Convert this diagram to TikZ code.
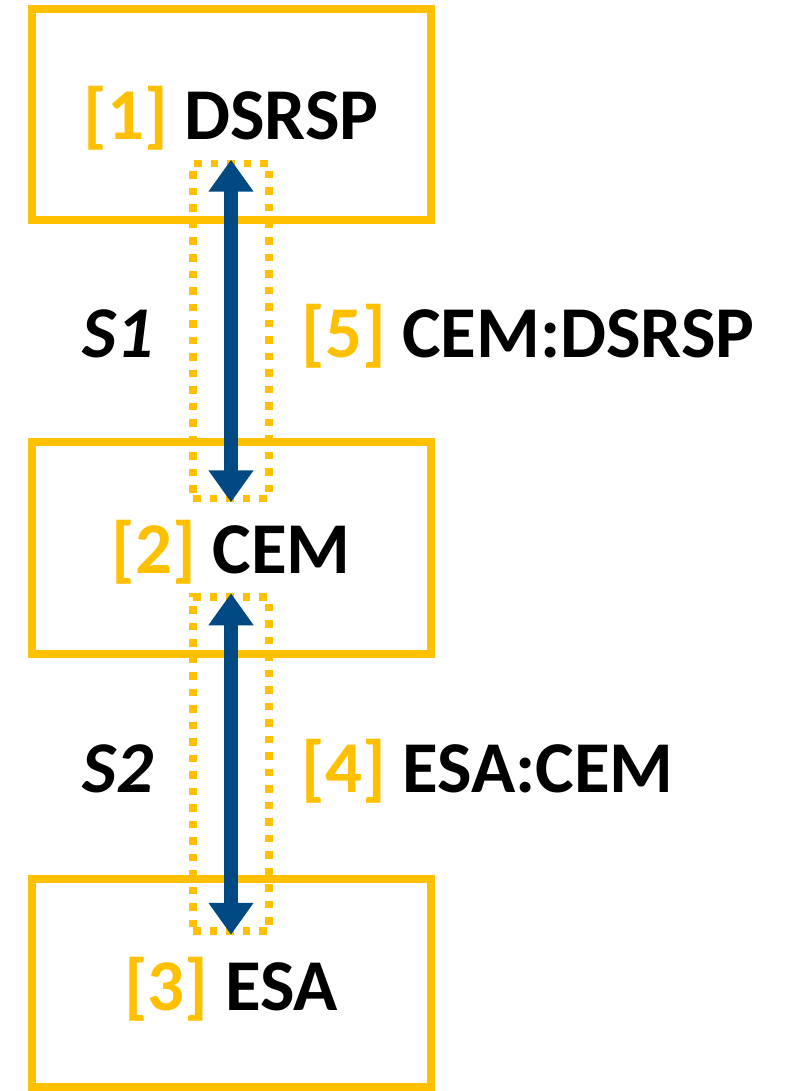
\documentclass[tikz,border=0pt]{standalone}
\usepackage{fontspec}
\setmainfont{Carlito}
\usetikzlibrary{arrows.meta}
\definecolor{gold}{RGB}{255,192,0}
\definecolor{navy}{RGB}{0,73,130}
\tikzset{
  box/.style={draw=gold, line width=8pt, inner sep=0pt, minimum width=399.5pt},
  dotbox/.style={draw=gold, line width=7.5pt, dash pattern=on 7.5pt off 9pt, inner sep=0pt, minimum width=76pt},
  lbl/.style={anchor=base, inner sep=0pt, font=\fontsize{73}{80}\selectfont\bfseries},
  slbl/.style={anchor=base, inner sep=0pt, font=\fontsize{73}{80}\selectfont\bfseries\itshape},
  link/.style={navy, line width=14pt, {Triangle[length=32pt,width=43pt]}-{Triangle[length=32pt,width=43pt]}}
}
\begin{document}
\begin{tikzpicture}[x=1pt,y=-1pt]
\useasboundingbox (0,0) rectangle (784,1091);
\node[box, minimum height=211pt] (b1) at (231.25,114.5) {};
\node[box, minimum height=212pt] (b2) at (231.25,548) {};
\node[box, minimum height=208pt] (b3) at (231.25,983) {};
\node[dotbox, minimum height=335pt] (d1) at (231,331) {};
\node[dotbox, minimum height=334pt] (d2) at (231,764) {};
\draw[link] (d1.north) -- (d1.south);
\draw[link] (d2.north) -- (d2.south);
\node[lbl] (t1) at (231,140) {\textcolor{gold}{[1]} DSRSP};
\node[lbl] (t2) at (231,573) {\textcolor{gold}{[2]} CEM};
\node[lbl] (t3) at (231,1010) {\textcolor{gold}{[3]} ESA};
\node[slbl] (s1) at (118,357) {S1};
\node[slbl] (s2) at (118,792) {S2};
\node[lbl] (l5) at (528,357) {\textcolor{gold}{[5]} CEM:DSRSP};
\node[lbl] (l4) at (487.5,792) {\textcolor{gold}{[4]} ESA:CEM};
\end{tikzpicture}
\end{document}
